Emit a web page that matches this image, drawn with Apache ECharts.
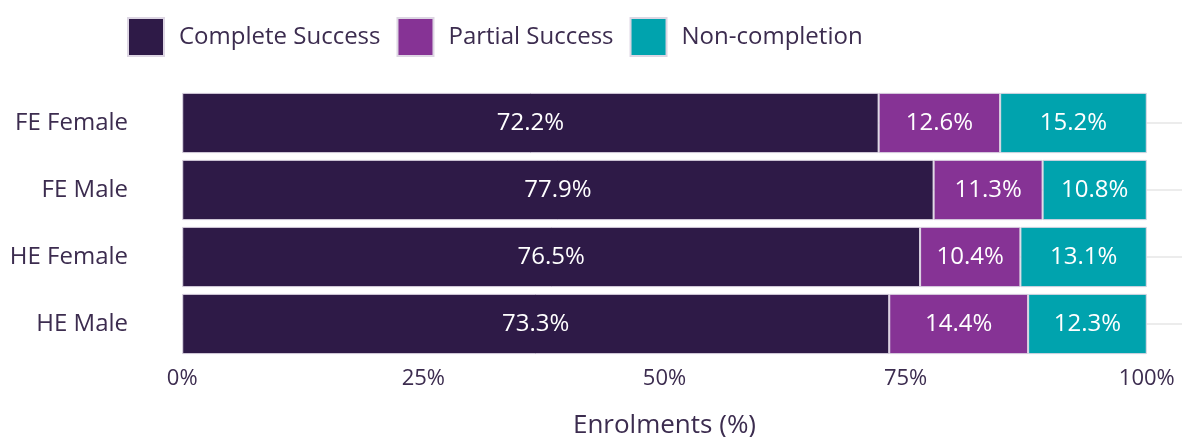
<!DOCTYPE html>
<html>
<head>
<meta charset="utf-8">
<script src="https://cdn.jsdelivr.net/npm/echarts@6/dist/echarts.min.js"></script>
<style>html,body{margin:0;padding:0;background:#fff;}#c{width:1182px;height:437px;}</style>
</head>
<body>
<div id="c"></div>
<script>
var categories = ['FE Female', 'FE Male', 'HE Female', 'HE Male'];
var completeSuccess = [72.2, 77.9, 76.5, 73.3];
var partialSuccess = [12.6, 11.3, 10.4, 14.4];
var nonCompletion = [15.2, 10.8, 13.1, 12.3];
var xTicks = [0, 25, 50, 75, 100];
var seriesNames = ['Complete Success', 'Partial Success', 'Non-completion'];

var textColor = '#3c2c4f';
var font = 'Open Sans';
var chart = echarts.init(document.getElementById('c'));
function mk(name, data, color) {
  return {
    name: name, type: 'bar', stack: 'total', data: data,
    barCategoryGap: '10%',
    itemStyle: { color: color, borderColor: '#ddd6e3', borderWidth: 1 },
    label: { show: true, position: 'inside', color: '#ffffff', fontFamily: font, fontSize: 24,
      formatter: function (p) { return p.value.toFixed(1) + '%'; } },
    emphasis: { disabled: true }
  };
}
chart.setOption({
  animation: false,
  textStyle: { fontFamily: font },
  legend: {
    left: 122, top: 12, itemWidth: 36, itemHeight: 38, itemGap: 16,
    icon: 'rect',
    textStyle: { color: textColor, fontSize: 24, fontFamily: font, padding: [0, 0, 0, 10] },
    data: seriesNames
  },
  grid: { left: 134, width: 1061, top: 89.5, bottom: 79.5, containLabel: false, outerBoundsMode: 'none' },
  xAxis: {
    type: 'value', min: -5, max: 105,
    axisLine: { show: false }, axisTick: { show: false }, splitLine: { show: false },
    axisLabel: { customValues: xTicks, formatter: function (v) { return v + '%'; },
      color: textColor, fontSize: 22, fontFamily: font, margin: 10 },
    name: 'Enrolments (%)', nameLocation: 'middle', nameGap: 55,
    nameTextStyle: { color: textColor, fontSize: 26, fontFamily: font }
  },
  yAxis: {
    type: 'category', data: categories, inverse: true,
    axisLine: { show: false },
    axisTick: { show: true, inside: true, alignWithLabel: true, length: 1061, lineStyle: { color: '#e6e6e6', width: 1.5 } },
    splitLine: { show: false },
    axisLabel: { color: textColor, fontSize: 24, fontFamily: font, margin: 6 }
  },
  series: [
    mk(seriesNames[0], completeSuccess, '#2e1a47'),
    mk(seriesNames[1], partialSuccess, '#863395'),
    mk(seriesNames[2], nonCompletion, '#00a3ae')
  ]
});
</script>
</body>
</html>
